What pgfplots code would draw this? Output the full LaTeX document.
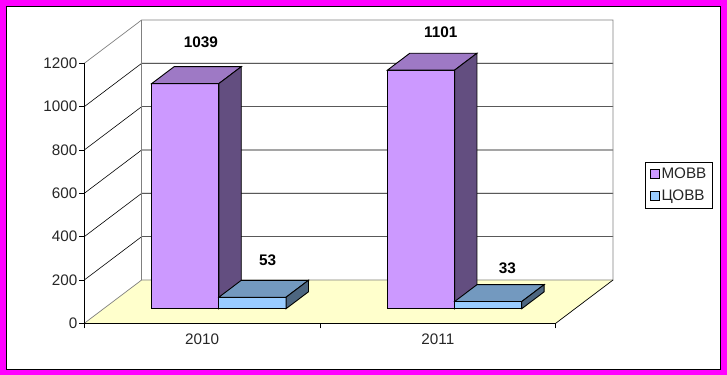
\documentclass[border=0pt]{standalone}
\usepackage{fontspec}
\setmainfont{Liberation Sans}
\usepackage{pgfplots}
\pgfplotsset{compat=1.18}
\definecolor{mfront}{HTML}{CC99FF}
\definecolor{mtop}{HTML}{9E79C5}
\definecolor{mside}{HTML}{634E80}
\definecolor{cfront}{HTML}{99CCFF}
\definecolor{ctop}{HTML}{7399BF}
\definecolor{cside}{HTML}{4D6680}
\definecolor{floorc}{HTML}{FFFFCC}
\definecolor{framec}{HTML}{FF00FF}
\definecolor{edgec}{HTML}{808080}

\newcommand{\fa}{0.337}
\newcommand{\fb}{0.727}
\newcommand{\ddx}{0.2435}
\newcommand{\ddy}{200}

% #1 left x (front plane), #2 right x, #3 value, #4 front, #5 top, #6 side
\newcommand{\tdbar}[6]{%
 \pgfmathsetmacro{\tdXa}{#1+\fa*\ddx}%
 \pgfmathsetmacro{\tdXb}{#2+\fa*\ddx}%
 \pgfmathsetmacro{\tdXc}{#2+\fb*\ddx}%
 \pgfmathsetmacro{\tdXd}{#1+\fb*\ddx}%
 \pgfmathsetmacro{\tdYa}{\fa*\ddy}%
 \pgfmathsetmacro{\tdYb}{#3+\fa*\ddy}%
 \pgfmathsetmacro{\tdYc}{\fb*\ddy}%
 \pgfmathsetmacro{\tdYd}{#3+\fb*\ddy}%
 \addplot[fill=#4,draw=black,line width=0.9bp,forget plot] coordinates {(\tdXa,\tdYa) (\tdXb,\tdYa) (\tdXb,\tdYb) (\tdXa,\tdYb)} -- cycle;
 \addplot[fill=#5,draw=black,line width=0.9bp,forget plot] coordinates {(\tdXa,\tdYb) (\tdXb,\tdYb) (\tdXc,\tdYd) (\tdXd,\tdYd)} -- cycle;
 \addplot[fill=#6,draw=black,line width=0.9bp,forget plot] coordinates {(\tdXb,\tdYa) (\tdXc,\tdYc) (\tdXc,\tdYd) (\tdXb,\tdYb)} -- cycle;
}

\begin{document}
\begin{tikzpicture}
\fill[framec] (0bp,0bp) rectangle (727bp,375bp);
\filldraw[fill=white,draw=black,line width=0.8bp] (6.5bp,6bp) rectangle (720.7bp,369bp);
\begin{axis}[
  at={(84.3bp,51.7bp)}, anchor=south west,
  scale only axis, width=471.4bp, height=260bp,
  xmin=0, xmax=2, ymin=0, ymax=1200,
  clip=false, axis on top,
  axis x line*=bottom, axis y line*=left,
  axis line style={-,black,line width=0.8bp},
  ytick={0,200,...,1200},
  /pgf/number format/assume math mode=true,
  /pgf/number format/1000 sep={},
  xtick={0,1,2}, xticklabels={},
  extra x ticks={0.5,1.5}, extra x tick labels={2010,2011},
  extra x tick style={major tick length=0pt, tick label style={yshift=-7bp}},
  tick align=outside, major tick length=5bp,
  tick style={black,line width=0.8bp},
  ticklabel style={font=\fontsize{15.3}{18}\selectfont, color=black!85},
  yticklabel style={xshift=1.5bp},
  legend style={at={(1.1901,0.6192)}, anchor=north west, draw=black, fill=white,
    line width=0.8bp, font=\fontsize{15.3}{18}\selectfont, text=black!85,
    inner xsep=4bp, inner ysep=3.5bp, row sep=6bp,
    /tikz/every even column/.append style={column sep=0bp}},
  legend cell align=left,
  legend image code/.code={\draw[#1,line width=0.8bp] (0bp,-4.5bp) rectangle (9bp,4.5bp);},
]
% walls
\addplot[fill=white,draw=none,forget plot] coordinates {(0,0) (0.2435,200) (0.2435,1400) (0,1200)} -- cycle;
\addplot[fill=white,draw=none,forget plot] coordinates {(0.2435,200) (2.2435,200) (2.2435,1400) (0.2435,1400)} -- cycle;
\addplot[fill=floorc,draw=none,forget plot] coordinates {(0,0) (2,0) (2.2435,200) (0.2435,200)} -- cycle;
% gridlines
\addplot[black,line width=0.6bp,forget plot] coordinates {(0,200) (0.2435,400) (2.2435,400)};
\addplot[black,line width=0.6bp,forget plot] coordinates {(0,400) (0.2435,600) (2.2435,600)};
\addplot[black,line width=0.6bp,forget plot] coordinates {(0,600) (0.2435,800) (2.2435,800)};
\addplot[black,line width=0.6bp,forget plot] coordinates {(0,800) (0.2435,1000) (2.2435,1000)};
\addplot[black,line width=0.6bp,forget plot] coordinates {(0,1000) (0.2435,1200) (2.2435,1200)};
% edges
\addplot[edgec,line width=0.7bp,forget plot] coordinates {(0,1200) (0.2435,1400) (2.2435,1400) (2.2435,200)};
\addplot[edgec,line width=0.7bp,forget plot] coordinates {(0.2435,1400) (0.2435,200)};
\addplot[edgec,line width=0.7bp,forget plot] coordinates {(0,0) (0.2435,200) (2.2435,200)};
\addplot[black,line width=0.7bp,forget plot] coordinates {(2,0) (2.2435,200)};
% bars
\tdbar{0.204}{0.489}{1039}{mfront}{mtop}{mside}
\tdbar{0.489}{0.774}{53}{cfront}{ctop}{cside}
\tdbar{1.204}{1.489}{1101}{mfront}{mtop}{mside}
\tdbar{1.489}{1.774}{33}{cfront}{ctop}{cside}
% labels
\node[font=\bfseries\fontsize{15.4}{18}\selectfont] at (axis cs:0.495,1295) {1039};
\node[font=\bfseries\fontsize{15.4}{18}\selectfont] at (axis cs:0.778,289) {53};
\node[font=\bfseries\fontsize{15.4}{18}\selectfont] at (axis cs:1.5123,1343) {1101};
\node[font=\bfseries\fontsize{15.4}{18}\selectfont] at (axis cs:1.795,254) {33};
\addlegendimage{fill=mfront,draw=black}
\addlegendentry{МОВВ}
\addlegendimage{fill=cfront,draw=black}
\addlegendentry{ЦОВВ}
\end{axis}
\pgfresetboundingbox
\path (0bp,0bp) rectangle (727bp,375bp);
\end{tikzpicture}
\end{document}
